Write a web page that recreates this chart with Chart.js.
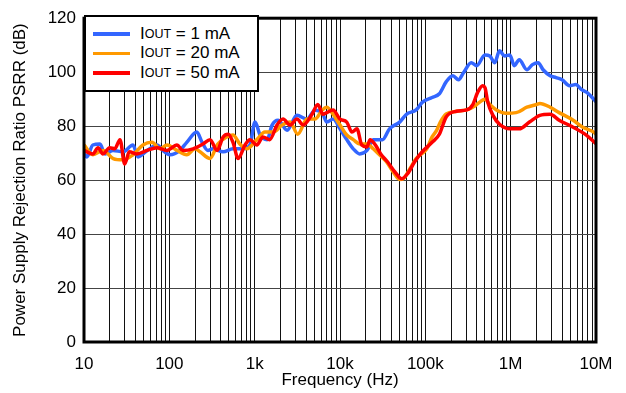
<!DOCTYPE html>
<html>
<head>
<meta charset="utf-8">
<script src="https://cdn.jsdelivr.net/npm/chart.js@4.4.1/dist/chart.umd.min.js"></script>
<style>
  body { margin: 0; background: #fff; }
  #wrap { position: relative; width: 626px; height: 393px; }
  #legend {
    position: absolute; left: 84px; top: 15px; width: 175px; height: 77px;
    box-sizing: border-box; border: 2px solid #000; background: #fff;
    padding-top: 7px; font-family: "Liberation Sans", Arial, sans-serif; font-size: 17px; color: #000;
  }
  #legend .row { display: flex; align-items: center; height: 19.5px; white-space: nowrap; }
  #legend .sw { display: inline-block; width: 37px; height: 3.5px; margin: 0 10px 0 7px; }
  #legend sub { font-size: 12.5px; vertical-align: -4px; line-height: 0; }
</style>
</head>
<body>
<div id="wrap">
  <canvas id="psrr" width="626" height="393"></canvas>
  <div id="legend"></div>
</div>
<script>
// tick labels for the decades
const decadeValues = [10, 100, 1e3, 1e4, 1e5, 1e6, 1e7];
const decadeLabels = ['10', '100', '1k', '10k', '100k', '1M', '10M'];

// IOUT = 1 mA
const freq1 = [10, 10.8, 12.7, 15.4, 17.6, 21.9, 28.6, 37.5, 43, 55, 72, 84, 102, 133, 160, 210, 242, 283, 325, 427, 557, 730, 880,
  1010, 1160, 1400, 1600, 1880, 2400, 3130, 4100, 5100, 6300, 7000, 8300, 10e3, 12e3, 14.3e3, 17e3, 20.7e3, 24.5e3, 31.6e3,
  38e3, 50e3, 60e3, 78e3, 92e3, 120e3, 146e3, 176e3, 210e3, 245e3, 280e3, 345e3, 400e3, 500e3, 570e3, 650e3, 740e3,
  850e3, 980e3, 1.1e6, 1.26e6, 1.55e6, 1.8e6, 2.1e6, 2.4e6, 2.9e6, 3.4e6, 4e6, 4.9e6, 5.8e6, 6.7e6, 7.8e6, 9.4e6, 10e6];
const psrr1 = [70, 68.6, 73, 73.4, 69.7, 71, 70.5, 73, 68.6, 71, 73, 71, 69.4, 71, 74, 77.8, 74, 71, 71.6, 70.5, 71.6, 71.6, 73,
  81.5, 76.7, 75, 80.4, 82.2, 78.5, 84, 82.6, 85.9, 84.4, 81.5, 82.6, 79, 75, 71.6, 69.7, 71, 75, 75,
  79, 81.5, 84.4, 86, 88.8, 90.6, 92, 96.5, 98.7, 97.2, 99.8, 103.5, 102.4, 106.4, 106, 103.5, 107.9,
  106, 106.4, 102.4, 104.6, 100.9, 102.8, 103.5, 100.9, 98.7, 98, 97.2, 95, 95.4, 93.6, 92.5, 90, 89];

// IOUT = 20 mA
const freq20 = [10, 12.7, 16.7, 22, 28.6, 37.5, 49, 62.6, 78, 94, 123, 160, 200, 229, 300, 370, 470, 557, 670, 810,
  1060, 1320, 1650, 2100, 2600, 3200, 4100, 5100, 6200, 7000, 8300, 10e3, 12e3, 14.3e3, 17e3, 20.7e3, 24.5e3, 29e3,
  35e3, 42e3, 50e3, 55e3, 66e3, 78e3, 104e3, 120e3, 136e3, 150e3, 176e3, 232e3, 305e3, 380e3, 460e3, 500e3, 570e3,
  680e3, 880e3, 1.16e6, 1.55e6, 2e6, 2.2e6, 2.9e6, 3.7e6, 5.4e6, 7e6, 9.4e6, 10e6];
const psrr20 = [73, 69.4, 71, 68, 67.5, 69.4, 73, 74, 71.6, 73, 71, 69.4, 71.6, 70.5, 68, 73.4, 76, 76.7, 73.4, 71.6,
  75, 77.8, 77.8, 80.4, 81.5, 77, 82.6, 82.6, 86, 87, 84.4, 80.4, 76.7, 75, 73.4, 73.4, 71.6, 69.4,
  66.8, 63, 60.2, 60.5, 64.2, 68, 71.6, 76, 78.5, 81.5, 84.5, 85.5, 86, 87.5, 89.5, 90, 88,
  86, 84.8, 85, 87, 88, 88.4, 87, 85, 82.2, 79.6, 77.8, 77];

// IOUT = 50 mA
const freq50 = [10, 12.7, 14.6, 16.7, 20, 23, 26.4, 30, 34, 41.6, 55, 71.7, 94, 123, 144, 190, 248, 300, 363, 427, 490, 557,
  640, 770, 880, 1060, 1250, 1500, 1830, 2150, 2600, 3130, 3700, 4700, 5500, 6300, 7000, 8300, 10e3, 12e3, 13.8e3,
  15.8e3, 18e3, 20.7e3, 22.5e3, 26e3, 30e3, 36e3, 44e3, 53e3, 62e3, 75e3, 92e3, 120e3, 146e3, 176e3, 232e3, 305e3,
  360e3, 410e3, 470e3, 500e3, 540e3, 620e3, 740e3, 980e3, 1.26e6, 1.66e6, 2.2e6, 2.9e6, 3.7e6, 5.4e6, 7.7e6, 10e6];
const psrr50 = [71, 69.7, 72, 69.7, 72, 71.6, 75, 66, 70.5, 69.7, 71, 72, 71, 73, 71, 71.6, 73.4, 75, 71, 76, 77, 74,
  68, 73, 75, 73, 76, 75, 80.4, 82.6, 80.4, 82.6, 80.4, 84.4, 88, 84.4, 85, 86, 82.6, 81.5, 77.8,
  79, 73, 72.3, 75, 73, 69.7, 66.8, 63, 60.5, 62.4, 66.8, 70.5, 74, 77, 83.5, 85.5, 86,
  88, 92.5, 95, 94.3, 88.8, 84, 80.7, 79, 79, 81.5, 84, 84.4, 82.2, 79.6, 76.7, 73.5];

const seriesNames = ['1 mA', '20 mA', '50 mA'];
const seriesColors = ['#3366ff', '#ff9900', '#ff0000'];

const toXY = (xs, ys) => xs.map((x, i) => ({ x: x, y: ys[i] }));

// all 1..9 x 10^n grid positions
const gridTicks = [];
for (let e = 1; e < 7; e++) {
  for (let m = 1; m < 10; m++) gridTicks.push(m * Math.pow(10, e));
}
gridTicks.push(1e7);

// thick frame around the plot area
const framePlugin = {
  id: 'frame',
  afterDraw(chart) {
    const { ctx, chartArea: a } = chart;
    ctx.save();
    ctx.strokeStyle = '#000';
    ctx.lineWidth = 3;
    ctx.strokeRect(a.left, a.top, a.right - a.left, a.bottom - a.top);
    ctx.restore();
  }
};

const font = { family: '"Liberation Sans", Arial, sans-serif', size: 17 };

new Chart(document.getElementById('psrr').getContext('2d'), {
  type: 'line',
  data: {
    datasets: [
      { label: seriesNames[0], data: toXY(freq1, psrr1), borderColor: seriesColors[0], order: 2 },
      { label: seriesNames[1], data: toXY(freq20, psrr20), borderColor: seriesColors[1], order: 1 },
      { label: seriesNames[2], data: toXY(freq50, psrr50), borderColor: seriesColors[2], order: 0 }
    ]
  },
  options: {
    responsive: false,
    animation: false,
    layout: { padding: { top: 15, right: 30, left: 0, bottom: 0 } },
    elements: {
      point: { radius: 0 },
      line: { borderWidth: 3.5, cubicInterpolationMode: 'monotone', fill: false }
    },
    plugins: { legend: { display: false }, tooltip: { enabled: false } },
    scales: {
      x: {
        type: 'logarithmic',
        min: 10,
        max: 1e7,
        afterBuildTicks: scale => { scale.ticks = gridTicks.map(v => ({ value: v })); },
        afterFit: scale => { scale.height = 51; },
        ticks: {
          autoSkip: false,
          maxRotation: 0,
          padding: 12,
          color: '#000',
          font: font,
          callback: value => {
            const i = decadeValues.indexOf(value);
            return i >= 0 ? decadeLabels[i] : '';
          }
        },
        grid: { color: '#111', lineWidth: 1, drawTicks: false },
        border: { display: false },
        title: { display: true, text: 'Frequency (Hz)', color: '#000', font: font, padding: { top: 0, bottom: 2 } }
      },
      y: {
        min: 0,
        max: 120,
        afterFit: scale => { scale.width = 84; },
        ticks: { stepSize: 20, padding: 8, color: '#000', font: font },
        grid: { color: '#444', lineWidth: 1, drawTicks: false },
        border: { display: false },
        title: {
          display: true,
          text: 'Power Supply Rejection Ratio PSRR (dB)',
          color: '#000',
          font: font,
          padding: { top: 10, bottom: 0 }
        }
      }
    }
  },
  plugins: [framePlugin]
});

// legend with subscripts
document.getElementById('legend').innerHTML = seriesNames.map((name, i) =>
  `<div class="row"><span class="sw" style="background:${seriesColors[i]}"></span>I<sub>OUT</sub>&nbsp;= ${name}</div>`
).join('');
</script>
</body>
</html>
